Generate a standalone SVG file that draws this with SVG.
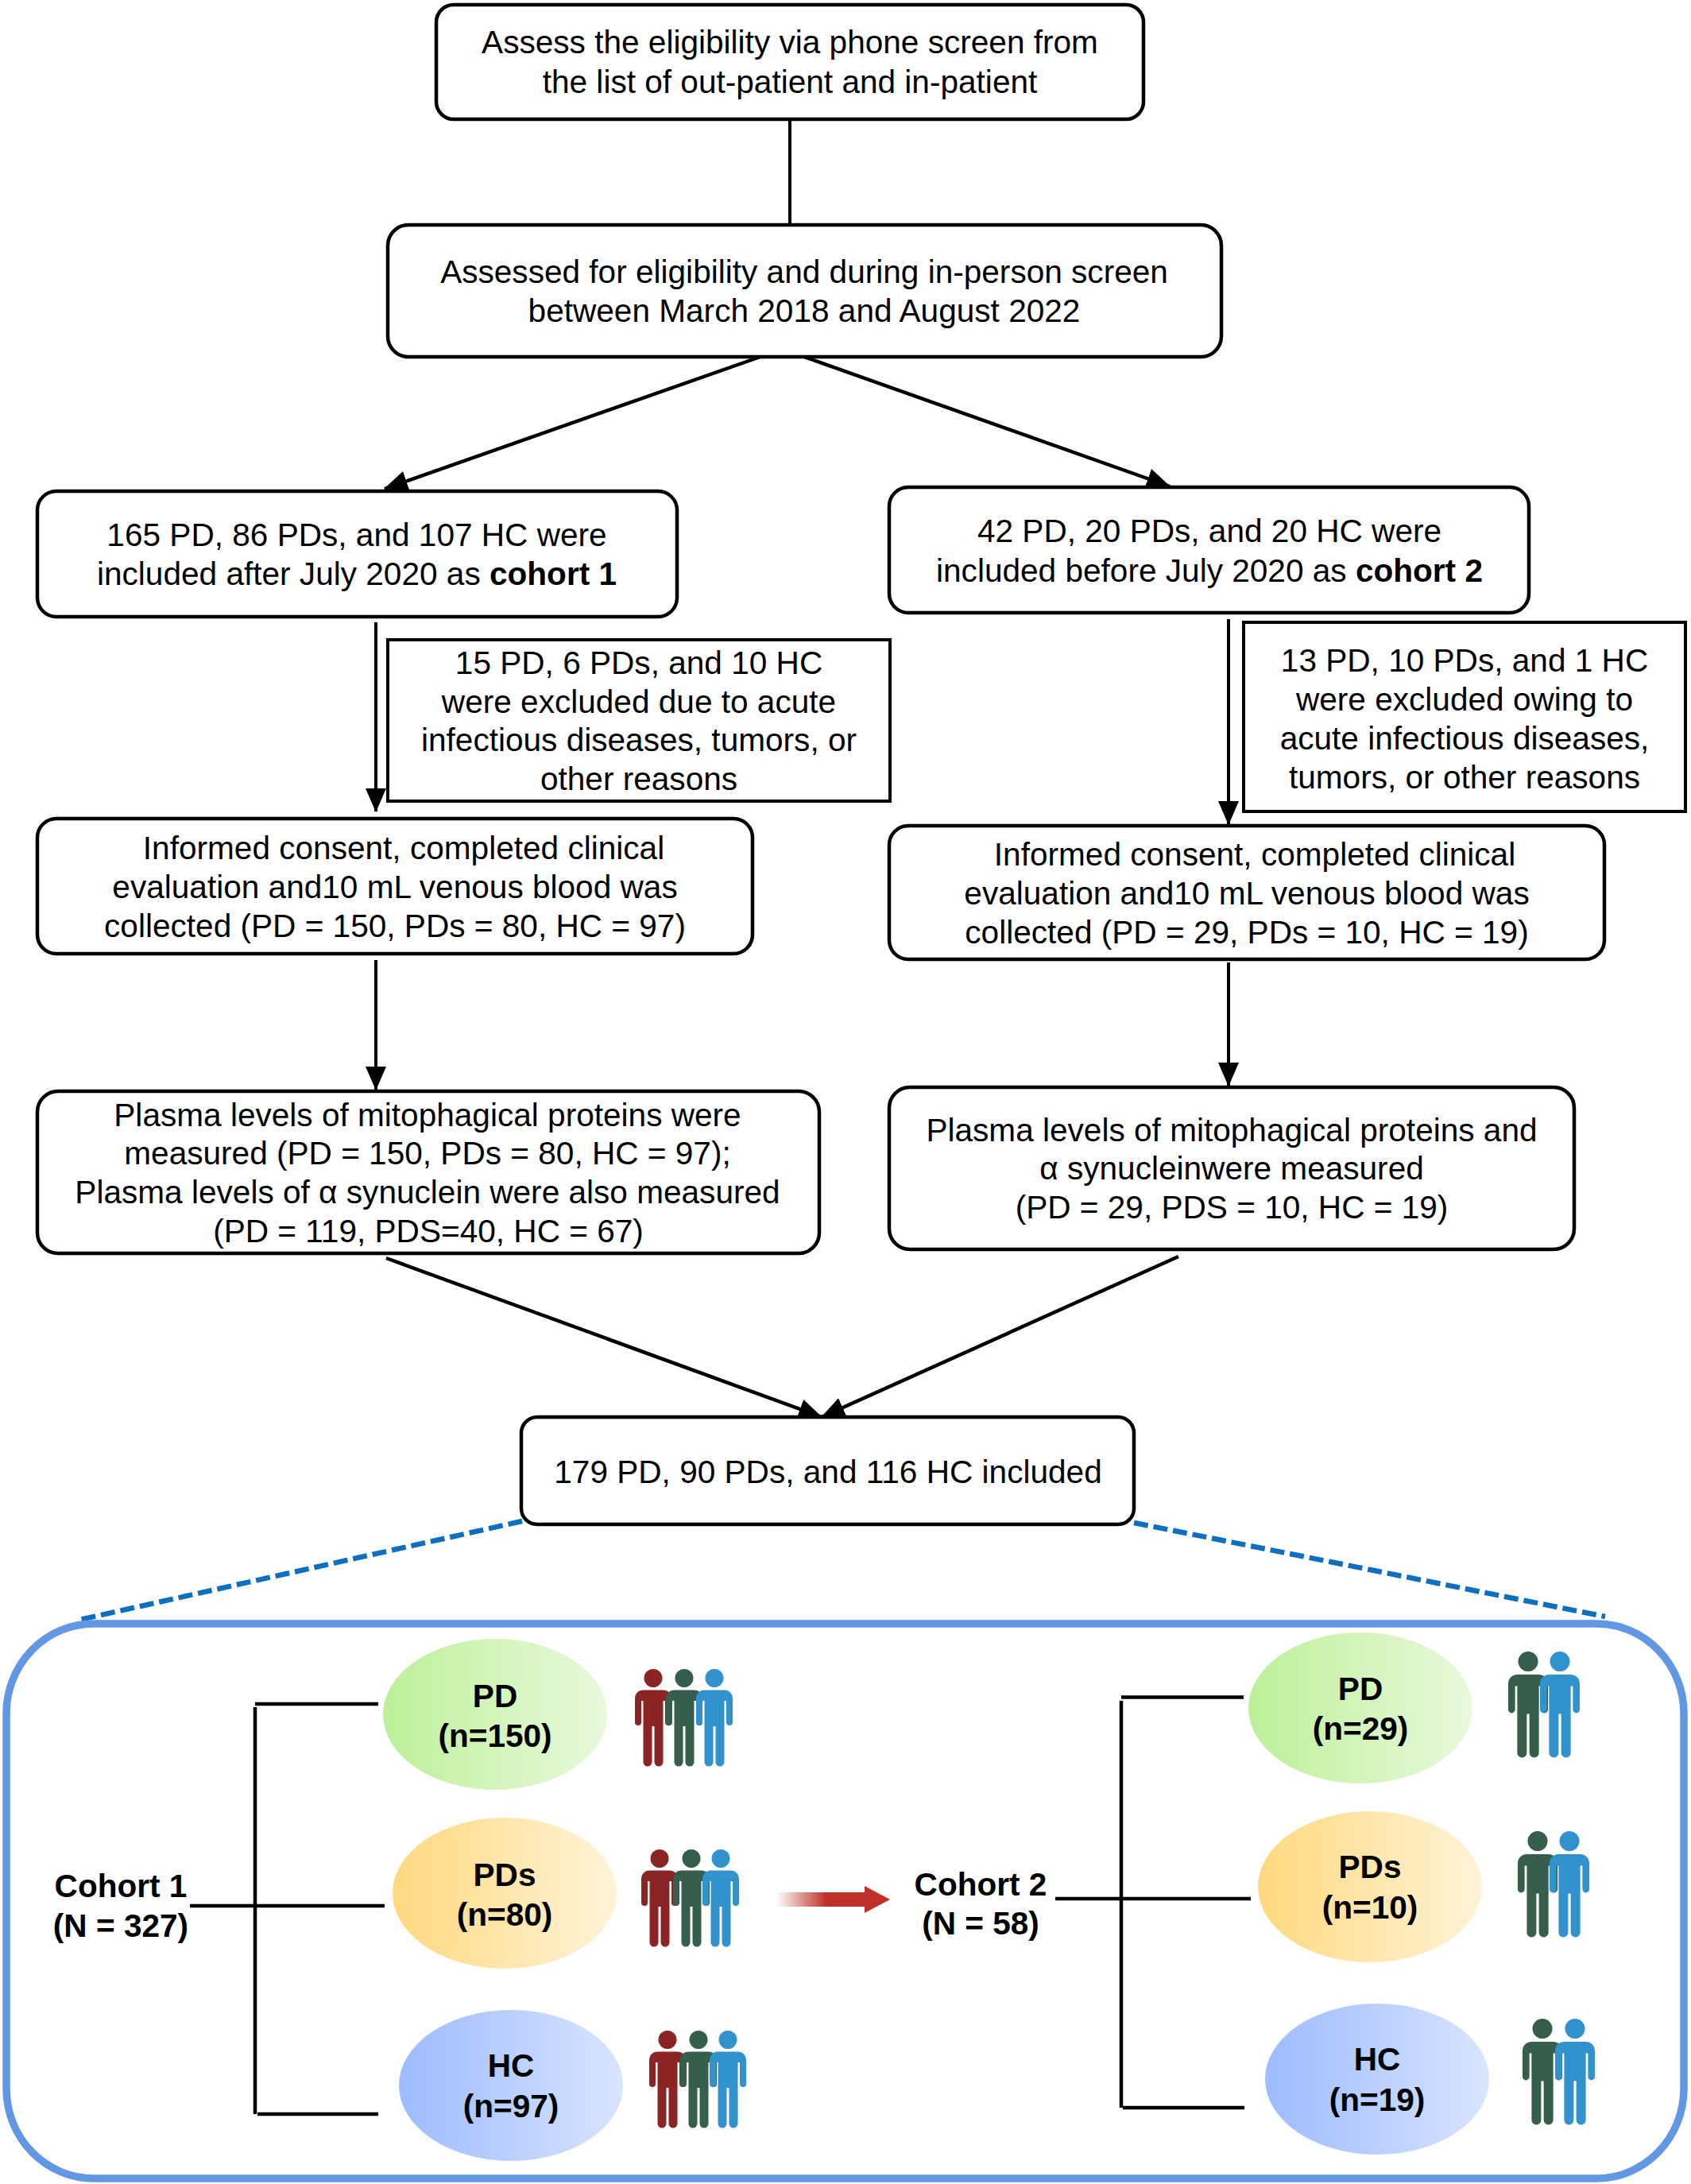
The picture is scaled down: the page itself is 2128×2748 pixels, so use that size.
<svg xmlns="http://www.w3.org/2000/svg" width="2128" height="2748" viewBox="0 0 2128 2748">
<style>
text{font-family:"Liberation Sans",Arial,sans-serif;fill:#000;text-anchor:middle}
.t{font-size:40.6px}
.b{font-size:40.6px;font-weight:700}
.box{fill:#fff;stroke:#000;stroke-width:4.5}
.ln{fill:none;stroke:#000;stroke-width:4}
.dg{fill:none;stroke:#000;stroke-width:4.5}
.br{fill:none;stroke:#000;stroke-width:4.5}
.dash{fill:none;stroke:#0f6fbf;stroke-width:6.5;stroke-dasharray:18 7}
.red{fill:#8b2525}.grn{fill:#355e4c}.blu{fill:#3192ce}
</style>
<defs>
<marker id="ah" markerUnits="userSpaceOnUse" markerWidth="30" markerHeight="26" refX="29" refY="13" orient="auto"><path d="M0,0 L30,13 L0,26 Z" fill="#000"/></marker>
<linearGradient id="gG"><stop offset="0" stop-color="#bdf099"/><stop offset="1" stop-color="#e9f9dc"/></linearGradient>
<linearGradient id="gY"><stop offset="0" stop-color="#ffd97f"/><stop offset="1" stop-color="#fff3d8"/></linearGradient>
<linearGradient id="gB"><stop offset="0" stop-color="#9dbbff"/><stop offset="1" stop-color="#d9e5ff"/></linearGradient>
<linearGradient id="gR" gradientUnits="userSpaceOnUse" x1="977" y1="0" x2="1040" y2="0"><stop offset="0" stop-color="#be3028" stop-opacity="0"/><stop offset="1" stop-color="#be3028"/></linearGradient>
<g id="p"><circle cx="0" cy="11.5" r="11.5"/><path d="M-12,26.5 H12 C19,26.5 23,31 23,38 V67 A4,4 0 0 1 15,67 V40 H12.5 V117 A5.5,5.5 0 0 1 1.5,117 V72 H-1.5 V117 A5.5,5.5 0 0 1 -12.5,117 V40 H-15 V67 A4,4 0 0 1 -23,67 V38 C-23,31 -19,26.5 -12,26.5 Z"/></g>
</defs>
<rect width="2128" height="2748" fill="#fff"/>

<g id="connectors">
<path class="ln" d="M994,150 V281"/>
<path class="dg" d="M968,445 L484,615" marker-end="url(#ah)"/>
<path class="dg" d="M1012,449 L1472,612" marker-end="url(#ah)"/>
<path class="ln" d="M473,783 V1021" marker-end="url(#ah)"/>
<path class="ln" d="M1546,779 V1037" marker-end="url(#ah)"/>
<path class="ln" d="M473,1208 V1371" marker-end="url(#ah)"/>
<path class="ln" d="M1546,1211 V1366" marker-end="url(#ah)"/>
<path class="dg" d="M486,1583 L1034,1783" marker-end="url(#ah)"/>
<path class="dg" d="M1483,1581 L1034,1783" marker-end="url(#ah)"/>
<path class="dash" d="M657,1914 L96,2039"/>
<path class="dash" d="M1427,1916 L2020,2034"/>
<path class="br" d="M321,2148 V2660 M321,2144 H476 M239,2398 H484 M324,2660 H476"/>
<path class="br" d="M1411,2140 V2652 M1411,2135.5 H1565 M1328,2389 H1574 M1413,2652 H1566"/>
<path d="M977,2381 H1088 V2373 L1120,2390 L1088,2407 V2399 H977 Z" fill="url(#gR)"/>
</g>

<g id="n1"><rect class="box" x="549" y="6" width="890" height="144" rx="22"/><text class="t" x="994" y="67">Assess the eligibility via phone screen from</text><text class="t" x="994" y="117">the list of out-patient and in-patient</text></g>
<g id="n2"><rect class="box" x="488" y="283" width="1049" height="166" rx="26"/><text class="t" x="1012" y="356">Assessed for eligibility and during in-person screen</text><text class="t" x="1012" y="405">between March 2018 and August 2022</text></g>
<g id="n3"><rect class="box" x="47" y="618" width="805" height="158" rx="24"/><text class="t" x="449" y="687">165 PD, 86 PDs, and 107 HC were</text><text class="t" x="449" y="736">included after July 2020 as <tspan class="b">cohort 1</tspan></text></g>
<g id="n4"><rect class="box" x="1119" y="613" width="805" height="158" rx="24"/><text class="t" x="1522" y="682">42 PD, 20 PDs, and 20 HC were</text><text class="t" x="1522" y="732">included before July 2020 as <tspan class="b">cohort 2</tspan></text></g>
<g id="n5"><rect fill="#fff" stroke="#000" stroke-width="4" x="488" y="805" width="632" height="203"/><text class="t" x="804" y="848">15 PD, 6 PDs, and 10 HC</text><text class="t" x="804" y="897">were excluded due to acute</text><text class="t" x="804" y="945">infectious diseases, tumors, or</text><text class="t" x="804" y="994">other reasons</text></g>
<g id="n6"><rect fill="#fff" stroke="#000" stroke-width="4" x="1565" y="783" width="556" height="238"/><text class="t" x="1843" y="845">13 PD, 10 PDs, and 1 HC</text><text class="t" x="1843" y="894">were excluded owing to</text><text class="t" x="1843" y="943">acute infectious diseases,</text><text class="t" x="1843" y="992">tumors, or other reasons</text></g>
<g id="n7"><rect class="box" x="47" y="1030" width="900" height="170" rx="24"/><text class="t" x="508" y="1081">Informed consent, completed clinical</text><text class="t" x="497" y="1130">evaluation and10 mL venous blood was</text><text class="t" x="497" y="1179">collected (PD = 150, PDs = 80, HC = 97)</text></g>
<g id="n8"><rect class="box" x="1119" y="1039" width="900" height="168" rx="24"/><text class="t" x="1579" y="1089">Informed consent, completed clinical</text><text class="t" x="1569" y="1138">evaluation and10 mL venous blood was</text><text class="t" x="1569" y="1187">collected (PD = 29, PDs = 10, HC = 19)</text></g>
<g id="n9"><rect class="box" x="47" y="1373" width="984" height="204" rx="26"/><text class="t" x="538" y="1417">Plasma levels of mitophagical proteins were</text><text class="t" x="538" y="1465">measured (PD = 150, PDs = 80, HC = 97);</text><text class="t" x="538" y="1514">Plasma levels of α synuclein were also measured</text><text class="t" x="539" y="1563">(PD = 119, PDS=40, HC = 67)</text></g>
<g id="n10"><rect class="box" x="1119" y="1368" width="862" height="204" rx="26"/><text class="t" x="1550" y="1436">Plasma levels of mitophagical proteins and</text><text class="t" x="1550" y="1484">α synucleinwere measured</text><text class="t" x="1550" y="1533">(PD = 29, PDS = 10, HC = 19)</text></g>
<g id="n11"><rect class="box" x="656" y="1783" width="771" height="135" rx="20"/><text class="t" x="1042" y="1866">179 PD, 90 PDs, and 116 HC included</text></g>

<g id="panel"><rect x="8" y="2043" width="2111" height="698" rx="110" ry="113" fill="none" stroke="#6197e3" stroke-width="9.5"/></g>

<g id="c1"><text class="b" x="152" y="2387">Cohort 1</text><text class="b" x="152" y="2437">(N = 327)</text></g>
<g id="c2"><text class="b" x="1234" y="2385">Cohort 2</text><text class="b" x="1234" y="2434">(N = 58)</text></g>

<g id="e1"><ellipse cx="623" cy="2157" rx="141" ry="95" fill="url(#gG)"/><text class="b" x="623" y="2148">PD</text><text class="b" x="623" y="2198">(n=150)</text></g>
<g id="e2"><ellipse cx="635" cy="2382" rx="141" ry="95" fill="url(#gY)"/><text class="b" x="635" y="2373">PDs</text><text class="b" x="635" y="2423">(n=80)</text></g>
<g id="e3"><ellipse cx="643" cy="2624" rx="141" ry="95" fill="url(#gB)"/><text class="b" x="643" y="2613">HC</text><text class="b" x="643" y="2664">(n=97)</text></g>
<g id="e4"><ellipse cx="1712" cy="2149" rx="141" ry="95" fill="url(#gG)"/><text class="b" x="1712" y="2139">PD</text><text class="b" x="1712" y="2189">(n=29)</text></g>
<g id="e5"><ellipse cx="1724" cy="2374" rx="141" ry="95" fill="url(#gY)"/><text class="b" x="1724" y="2363">PDs</text><text class="b" x="1724" y="2414">(n=10)</text></g>
<g id="e6"><ellipse cx="1733" cy="2616" rx="141" ry="95" fill="url(#gB)"/><text class="b" x="1733" y="2605">HC</text><text class="b" x="1733" y="2656">(n=19)</text></g>

<g id="people1"><use href="#p" class="red" x="822" y="2100"/><use href="#p" class="grn" x="861" y="2100"/><use href="#p" class="blu" x="899" y="2100"/></g>
<g id="people2"><use href="#p" class="red" x="830" y="2327"/><use href="#p" class="grn" x="870" y="2327"/><use href="#p" class="blu" x="907" y="2327"/></g>
<g id="people3"><use href="#p" class="red" x="840" y="2555"/><use href="#p" class="grn" x="879" y="2555"/><use href="#p" class="blu" x="916" y="2555"/></g>
<g id="people4"><g class="grn" transform="translate(1923,2078) scale(1.09)"><use href="#p"/></g><g class="blu" transform="translate(1963,2078) scale(1.09)"><use href="#p"/></g></g>
<g id="people5"><g class="grn" transform="translate(1935,2304) scale(1.09)"><use href="#p"/></g><g class="blu" transform="translate(1975,2304) scale(1.09)"><use href="#p"/></g></g>
<g id="people6"><g class="grn" transform="translate(1941,2540) scale(1.09)"><use href="#p"/></g><g class="blu" transform="translate(1982,2540) scale(1.09)"><use href="#p"/></g></g>
</svg>
